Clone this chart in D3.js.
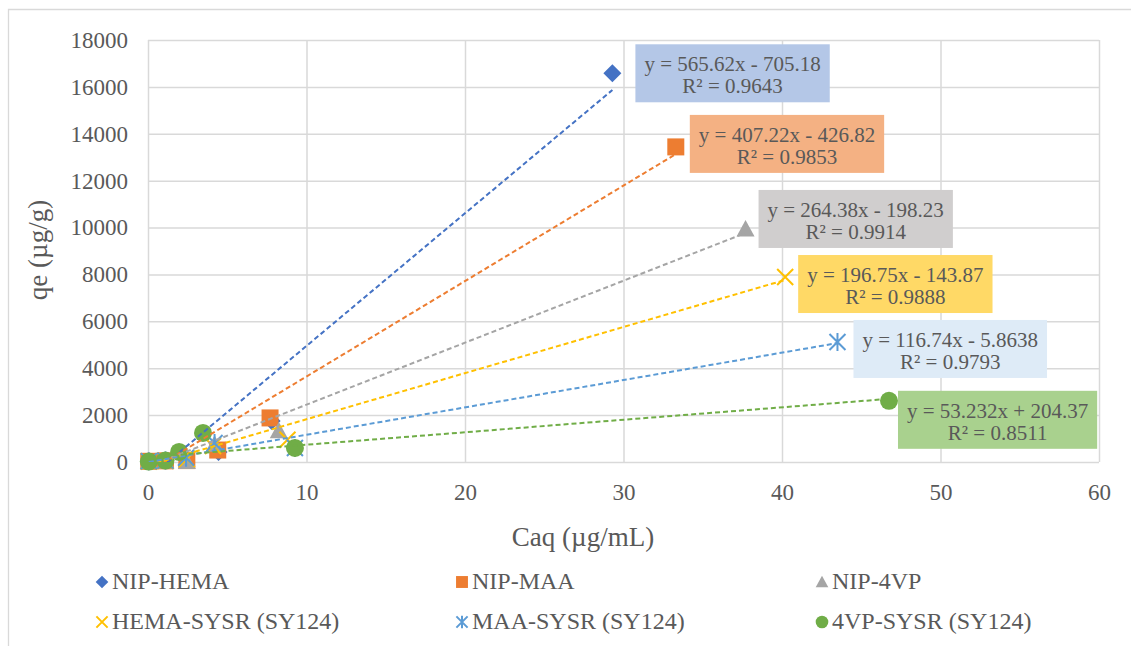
<!DOCTYPE html>
<html>
<head>
<meta charset="utf-8">
<script src="https://cdn.jsdelivr.net/npm/d3@7"></script>
<style>
  html, body { margin: 0; padding: 0; background: #fff; }
  svg { display: block; }
  text { font-family: "Liberation Serif", "Times New Roman", serif; fill: #595959; }
</style>
</head>
<body>
<svg id="chart" width="1131" height="646"></svg>
<script>
// ---------------- DATA ----------------
const seriesNames = ["NIP-HEMA", "NIP-MAA", "NIP-4VP", "HEMA-SYSR (SY124)", "MAA-SYSR (SY124)", "4VP-SYSR (SY124)"];
const seriesColors = ["#4472c4", "#ed7d31", "#a5a5a5", "#ffc000", "#5b9bd5", "#70ad47"];
const seriesShapes = ["diamond", "square", "triangle", "x", "asterisk", "circle"];

const caqNipHema = [0.05, 1.1, 2.4, 4.45, 7.8, 29.3];
const qeNipHema  = [20, 60, 120, 430, 1750, 16580];

const caqNipMaa = [0.05, 1.1, 2.45, 4.4, 7.7, 33.3];
const qeNipMaa  = [30, 50, 60, 510, 1880, 13440];

const caqNip4vp = [0.05, 1.1, 2.45, 4.2, 8.25, 37.7];
const qeNip4vp  = [20, 40, 20, 760, 1330, 9940];

const caqHemaSysr = [0.05, 1.1, 2.45, 4.1, 8.8, 40.2];
const qeHemaSysr  = [20, 50, 130, 680, 950, 7890];

const caqMaaSysr = [0.05, 1.1, 2.4, 4.2, 9.27, 43.5];
const qeMaaSysr  = [30, 60, 180, 810, 600, 5120];

const caq4vpSysr = [0.05, 1.1, 1.96, 3.47, 9.27, 46.75];
const qe4vpSysr  = [20, 60, 430, 1240, 600, 2610];

const trendSlopes     = [565.62, 407.22, 264.38, 196.75, 116.74, 53.232];
const trendIntercepts = [-705.18, -426.82, -198.23, -143.87, -5.8638, 204.37];
const trendR2         = ["0.9643", "0.9853", "0.9914", "0.9888", "0.9793", "0.8511"];
const labelFills      = ["#b4c7e7", "#f4b183", "#d0cece", "#ffd966", "#deebf7", "#a9d18e"];

const xTicks = [0, 10, 20, 30, 40, 50, 60];
const yTicks = [0, 2000, 4000, 6000, 8000, 10000, 12000, 14000, 16000, 18000];
const xTitle = "Caq (µg/mL)";
const yTitle = "qe (µg/g)";

// ---------------- LAYOUT ----------------
const plot = { left: 148, right: 1099, top: 40, bottom: 462 };
const labelOffsets = [[23, -29], [14, -32], [13, -39], [13, -22], [16, -22], [9, -10]]; // px from last point
const legendCols = [102, 462, 822];
const legendRows = [582, 622];

const allX = [caqNipHema, caqNipMaa, caqNip4vp, caqHemaSysr, caqMaaSysr, caq4vpSysr];
const allY = [qeNipHema, qeNipMaa, qeNip4vp, qeHemaSysr, qeMaaSysr, qe4vpSysr];
const series = seriesNames.map((name, i) => ({
  name, color: seriesColors[i], shape: seriesShapes[i],
  points: allX[i].map((x, j) => ({ x, y: allY[i][j] })),
  slope: trendSlopes[i], intercept: trendIntercepts[i], r2: trendR2[i], fill: labelFills[i]
}));

const svg = d3.select("#chart");
const x = d3.scaleLinear().domain([0, 60]).range([plot.left, plot.right]);
const y = d3.scaleLinear().domain([0, 18000]).range([plot.bottom, plot.top]);
const serif = "'Liberation Serif', 'Times New Roman', serif";

// chart area border
svg.append("path").attr("d", "M8.5,646 L8.5,9.5 L1131,9.5")
  .attr("fill", "none").attr("stroke", "#d9d9d9").attr("stroke-width", 1.3);

// gridlines + axes
const gy = svg.append("g").attr("transform", `translate(${plot.left},0)`)
  .call(d3.axisLeft(y).tickValues(yTicks).tickFormat(d3.format("d"))
    .tickSize(-(plot.right - plot.left)).tickPadding(20));
gy.attr("font-family", null);
gy.select(".domain").remove();
gy.selectAll("line").attr("stroke", "#d9d9d9").attr("stroke-width", 1.5);
gy.selectAll("text").attr("font-size", 23).attr("fill", "#595959").style("font-family", serif);

const gx = svg.append("g").attr("transform", `translate(0,${plot.bottom})`)
  .call(d3.axisBottom(x).tickValues(xTicks).tickFormat(d3.format("d"))
    .tickSize(-(plot.bottom - plot.top)).tickPadding(22));
gx.attr("font-family", null);
gx.select(".domain").remove();
gx.selectAll("line").attr("stroke", "#d9d9d9").attr("stroke-width", 1.5);
gx.selectAll("text").attr("font-size", 23).attr("fill", "#595959").style("font-family", serif);

// axis titles
svg.append("text").attr("x", 583).attr("y", 546).attr("text-anchor", "middle")
  .attr("font-size", 27).style("font-family", serif).text(xTitle);
svg.append("text").attr("transform", "translate(47,250) rotate(-90)").attr("text-anchor", "middle")
  .attr("font-size", 27).style("font-family", serif).text(yTitle);

// marker drawing
function drawMarker(g, shape, color, s) {
  if (shape === "diamond") {
    g.append("path").attr("d", `M0,${-9*s} L${9*s},0 L0,${9*s} L${-9*s},0 Z`).attr("fill", color);
  } else if (shape === "square") {
    g.append("rect").attr("x", -8.5*s).attr("y", -8.5*s).attr("width", 17*s).attr("height", 17*s).attr("fill", color);
  } else if (shape === "triangle") {
    g.append("path").attr("d", `M0,${-9*s} L${9*s},${7.5*s} L${-9*s},${7.5*s} Z`).attr("fill", color);
  } else if (shape === "x") {
    g.append("path").attr("d", `M${-8*s},${-8*s} L${8*s},${8*s} M${8*s},${-8*s} L${-8*s},${8*s}`)
      .attr("stroke", color).attr("stroke-width", 2).attr("fill", "none");
  } else if (shape === "asterisk") {
    g.append("path").attr("d", `M${-8*s},${-8*s} L${8*s},${8*s} M${8*s},${-8*s} L${-8*s},${8*s} M0,${-9*s} L0,${9*s}`)
      .attr("stroke", color).attr("stroke-width", 2).attr("fill", "none");
  } else {
    g.append("circle").attr("r", 9*s).attr("fill", color);
  }
}

// markers
const markersG = svg.append("g");
series.forEach(sr => {
  sr.points.forEach(p => {
    const g = markersG.append("g").attr("transform", `translate(${x(p.x)},${y(p.y)})`);
    drawMarker(g, sr.shape, sr.color, 1);
  });
});

// trendlines (clipped)
svg.append("clipPath").attr("id", "plotclip").append("rect")
  .attr("x", plot.left).attr("y", plot.top).attr("width", plot.right - plot.left).attr("height", plot.bottom - plot.top);
const trendG = svg.append("g").attr("clip-path", "url(#plotclip)");
const line = d3.line().x(d => x(d[0])).y(d => y(d[1]));
series.forEach(sr => {
  const [x0, x1] = d3.extent(sr.points, d => d.x);
  trendG.append("path")
    .attr("d", line([[x0, sr.slope * x0 + sr.intercept], [x1, sr.slope * x1 + sr.intercept]]))
    .attr("stroke", sr.color).attr("stroke-width", 2).attr("stroke-dasharray", "5,3").attr("fill", "none");
});

// equation labels
series.forEach((sr, i) => {
  const last = sr.points[sr.points.length - 1];
  const bx = x(last.x) + labelOffsets[i][0];
  const by = y(last.y) + labelOffsets[i][1];
  const sign = sr.intercept < 0 ? "-" : "+";
  const eq = `y = ${sr.slope}x ${sign} ${Math.abs(sr.intercept)}`;
  const g = svg.append("g");
  const rect = g.append("rect").attr("fill", sr.fill);
  const t1 = g.append("text").attr("font-size", 21).style("font-family", serif).attr("text-anchor", "middle").text(eq);
  const t2 = g.append("text").attr("font-size", 21).style("font-family", serif).attr("text-anchor", "middle").text(`R² = ${sr.r2}`);
  const w = t1.node().getComputedTextLength() + 18;
  rect.attr("x", bx).attr("y", by).attr("width", w).attr("height", 58);
  t1.attr("x", bx + w / 2).attr("y", by + 27);
  t2.attr("x", bx + w / 2).attr("y", by + 49);
});

// legend
series.forEach((sr, i) => {
  const cx = legendCols[i % 3];
  const cy = legendRows[Math.floor(i / 3)];
  const g = svg.append("g").attr("transform", `translate(${cx},${cy})`);
  drawMarker(g, sr.shape, sr.color, 0.7);
  svg.append("text").attr("x", cx + 10).attr("y", cy + 7).attr("font-size", 24).style("font-family", serif).text(sr.name);
});
</script>
</body>
</html>
